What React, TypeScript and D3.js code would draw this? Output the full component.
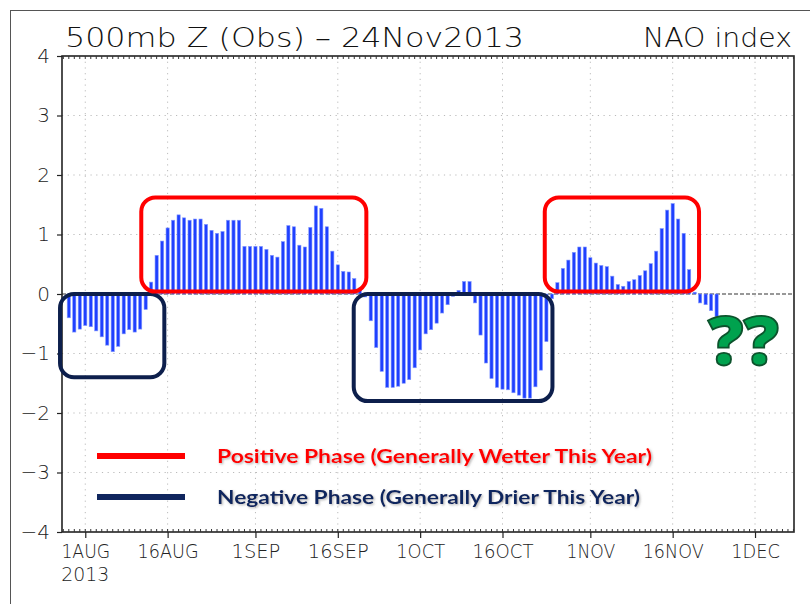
import * as d3 from "d3";
import { useEffect, useRef } from "react";

// daily NAO index, starting 29 Jul 2013
const startDate = "2013-07-29";
const naoValues = [
  -0.4, -0.64, -0.59, -0.53, -0.55, -0.62, -0.72, -0.86, -0.97, -0.88, -0.67, -0.6, -0.64, -0.59, -0.26,
  0.2, 0.65, 0.89, 1.11, 1.24, 1.33, 1.28, 1.24, 1.26, 1.26, 1.17, 1.07, 1.02, 1.05, 1.24, 1.24, 1.24, 0.8, 0.8,
  0.8, 0.8, 0.75, 0.65, 0.62, 0.88, 1.15, 1.13, 0.82, 0.79, 1.12, 1.48, 1.44, 1.13, 0.72, 0.49, 0.38, 0.37, 0.26,
  0.1, -0.05, -0.45, -0.9, -1.3, -1.57, -1.57, -1.55, -1.5, -1.44, -1.24,
  -0.94, -0.67, -0.6, -0.49, -0.32, -0.18, -0.04, 0.06, 0.21, 0.21, -0.15, -0.69, -1.16, -1.42, -1.57, -1.6,
  -1.61, -1.66, -1.7, -1.75, -1.75, -1.56, -1.28, -0.8, -0.08, 0.19, 0.43, 0.57, 0.7, 0.79, 0.79,
  0.61, 0.52, 0.48, 0.46, 0.3, 0.16, 0.13, 0.21, 0.24, 0.31, 0.39, 0.51, 0.72, 1.1, 1.41, 1.52, 1.26, 1.02,
  0.41, 0.03, -0.15, -0.18, -0.28, -0.38,
];

const yTicks = [-4, -3, -2, -1, 0, 1, 2, 3, 4];
const xTickDates = [
  "2013-08-01", "2013-08-16", "2013-09-01", "2013-09-16", "2013-10-01",
  "2013-10-16", "2013-11-01", "2013-11-16", "2013-12-01",
];
const xTickLabels = ["1AUG", "16AUG", "1SEP", "16SEP", "1OCT", "16OCT", "1NOV", "16NOV", "1DEC"];

// highlighted phases: day offsets from 1 Aug 2013 and index range
const phaseKind = ["neg", "pos", "neg", "pos"];
const phaseFromDay = [-4.6, 10.2, 48.9, 83.7];
const phaseToDay = [14.4, 51.2, 85.1, 111.8];
const phaseTop = [0.0, 1.62, 0.0, 1.62];
const phaseBottom = [-1.4, 0.04, -1.8, 0.04];

const legendLabels = [
  "Positive Phase (Generally Wetter This Year)",
  "Negative Phase (Generally Drier This Year)",
];

const W = 810;
const H = 604;
const AXIS_FONT = "'DejaVu Sans', sans-serif";

export default function App() {
  const svgRef = useRef(null);

  useEffect(() => {
    const svg = d3.select(svgRef.current);
    svg.selectAll("*").remove();

    const day = 86400000;
    const aug1 = Date.UTC(2013, 7, 1);
    const x = d3
      .scaleUtc()
      .domain([new Date(aug1 - 4.24 * day), new Date(aug1 + 129.1 * day)])
      .range([62, 794]);
    const y = d3.scaleLinear().domain([-4, 4]).range([532, 56]);

    const start = d3.utcParse("%Y-%m-%d")(startDate);
    const data = naoValues.map((v, i) => ({ date: d3.utcDay.offset(start, i), v }));
    const tickDates = xTickDates.map((s) => d3.utcParse("%Y-%m-%d")(s));
    const dayX = (d) => x(new Date(aug1 + d * day));

    svg.append("rect").attr("width", W).attr("height", H).attr("fill", "#fff");

    // outer frame
    svg
      .append("rect")
      .attr("x", 10.5)
      .attr("y", 10.5)
      .attr("width", 900)
      .attr("height", 900)
      .attr("fill", "none")
      .attr("stroke", "#555");

    const defs = svg.append("defs");
    const f = defs.append("filter").attr("id", "shadow").attr("x", "-5%").attr("y", "-20%").attr("width", "110%").attr("height", "150%");
    f.append("feDropShadow")
      .attr("dx", 1.2)
      .attr("dy", 1.2)
      .attr("stdDeviation", 0.8)
      .attr("flood-color", "#777")
      .attr("flood-opacity", 0.55);

    // grid
    const grid = svg.append("g").attr("stroke", "#bbb").attr("stroke-dasharray", "1.2,4.5");
    grid
      .selectAll("line.v")
      .data(tickDates)
      .join("line")
      .attr("x1", (d) => x(d))
      .attr("x2", (d) => x(d))
      .attr("y1", y(4))
      .attr("y2", y(-4));
    grid
      .selectAll("line.h")
      .data(yTicks.filter((t) => t !== 0 && Math.abs(t) !== 4))
      .join("line")
      .attr("x1", x.range()[0])
      .attr("x2", x.range()[1])
      .attr("y1", (d) => y(d))
      .attr("y2", (d) => y(d));

    // zero line
    svg
      .append("line")
      .attr("x1", x.range()[0])
      .attr("x2", x.range()[1])
      .attr("y1", y(0))
      .attr("y2", y(0))
      .attr("stroke", "#777")
      .attr("stroke-width", 1.3)
      .attr("stroke-dasharray", "4,2");

    // bars
    svg
      .append("g")
      .selectAll("rect")
      .data(data)
      .join("rect")
      .attr("x", (d) => x(d.date) - 1.6)
      .attr("width", 3.2)
      .attr("y", (d) => y(Math.max(0, d.v)))
      .attr("height", (d) => Math.abs(y(d.v) - y(0)))
      .attr("fill", "#1f40ff")
      .attr("stroke", "#8398ff")
      .attr("stroke-width", 0.6);

    // axes frame
    svg
      .append("rect")
      .attr("x", x.range()[0])
      .attr("y", y(4))
      .attr("width", x.range()[1] - x.range()[0])
      .attr("height", y(-4) - y(4))
      .attr("fill", "none")
      .attr("stroke", "#222")
      .attr("stroke-width", 1.6);

    // daily minor ticks on top and bottom
    const days = d3.utcDay.range(x.domain()[0], x.domain()[1]);
    const minor = svg.append("g").attr("stroke", "#333").attr("stroke-width", 1);
    minor
      .selectAll("line.b")
      .data(days)
      .join("line")
      .attr("x1", (d) => x(d))
      .attr("x2", (d) => x(d))
      .attr("y1", y(-4))
      .attr("y2", y(-4) - 3);
    minor
      .selectAll("line.t")
      .data(days)
      .join("line")
      .attr("x1", (d) => x(d))
      .attr("x2", (d) => x(d))
      .attr("y1", y(4))
      .attr("y2", y(4) + 3);

    const xAxis = svg
      .append("g")
      .attr("transform", `translate(0,${y(-4)})`)
      .call(
        d3
          .axisBottom(x)
          .tickValues(tickDates)
          .tickFormat((d, i) => xTickLabels[i])
          .tickSize(6)
          .tickPadding(6)
      );
    const yAxis = svg
      .append("g")
      .attr("transform", `translate(${x.range()[0]},0)`)
      .call(d3.axisLeft(y).tickValues(yTicks).tickSize(5).tickPadding(7));

    for (const ax of [xAxis, yAxis]) {
      ax.select(".domain").remove();
      ax.selectAll("line").attr("stroke", "#222").attr("stroke-width", 1.2);
      ax.selectAll("text")
        .attr("font-family", AXIS_FONT)
        .attr("font-weight", 200)
        .attr("font-size", 20)
        .attr("fill", "#222");
    }
    xAxis.selectAll("text").attr("textLength", (d, i) => xTickLabels[i].length * 12.2).attr("lengthAdjust", "spacingAndGlyphs");

    svg
      .append("text")
      .attr("x", x(tickDates[0]))
      .attr("y", 581)
      .attr("text-anchor", "middle")
      .attr("font-family", AXIS_FONT)
      .attr("font-weight", 200)
      .attr("font-size", 20)
      .attr("fill", "#222")
      .attr("textLength", 48)
      .attr("lengthAdjust", "spacingAndGlyphs")
      .text("2013");

    // titles
    svg
      .append("text")
      .attr("x", 65)
      .attr("y", 47)
      .attr("font-family", AXIS_FONT)
      .attr("font-weight", 200)
      .attr("font-size", 26)
      .attr("fill", "#111")
      .attr("textLength", 459)
      .attr("lengthAdjust", "spacingAndGlyphs")
      .text("500mb Z (Obs) – 24Nov2013");
    svg
      .append("text")
      .attr("x", 643)
      .attr("y", 47)
      .attr("font-family", AXIS_FONT)
      .attr("font-weight", 200)
      .attr("font-size", 26)
      .attr("fill", "#111")
      .attr("textLength", 149)
      .attr("lengthAdjust", "spacingAndGlyphs")
      .text("NAO index");

    // phase boxes
    svg
      .append("g")
      .selectAll("rect")
      .data(phaseKind.map((k, i) => ({ k, i })))
      .join("rect")
      .attr("x", (d) => dayX(phaseFromDay[d.i]))
      .attr("width", (d) => dayX(phaseToDay[d.i]) - dayX(phaseFromDay[d.i]))
      .attr("y", (d) => y(phaseTop[d.i]))
      .attr("height", (d) => y(phaseBottom[d.i]) - y(phaseTop[d.i]))
      .attr("rx", 14)
      .attr("fill", "none")
      .attr("stroke", (d) => (d.k === "pos" ? "#ff0000" : "#0d1f4c"))
      .attr("stroke-width", 4);

    // legend
    const legColors = ["#ff0000", "#10265e"];
    const legWidths = [435, 423];
    const leg = svg
      .append("g")
      .selectAll("g")
      .data(legendLabels)
      .join("g")
      .attr("transform", (d, i) => `translate(0,${456 + i * 41})`);
    leg
      .append("line")
      .attr("x1", 97)
      .attr("x2", 185)
      .attr("stroke", (d, i) => legColors[i])
      .attr("stroke-width", 6);
    leg
      .append("text")
      .attr("x", 217)
      .attr("y", 7)
      .attr("font-family", "Lato, 'Open Sans', sans-serif")
      .attr("font-weight", "bold")
      .attr("font-size", 19)
      .attr("fill", (d, i) => legColors[i])
      .attr("textLength", (d, i) => legWidths[i])
      .attr("lengthAdjust", "spacingAndGlyphs")
      .attr("filter", "url(#shadow)")
      .text((d) => d);

    // question marks
    svg
      .append("text")
      .attr("x", 708)
      .attr("y", 365)
      .attr("font-family", "'Open Sans', Lato, sans-serif")
      .attr("font-weight", 800)
      .attr("font-size", 68)
      .attr("fill", "#00a24e")
      .attr("stroke", "#0c532c")
      .attr("stroke-width", 1.8)
      .attr("textLength", 71)
      .attr("lengthAdjust", "spacingAndGlyphs")
      .text("??");
  }, []);

  return (
    <svg
      ref={svgRef}
      width={W}
      height={H}
      style={{ position: "absolute", left: 0, top: 0, display: "block" }}
    />
  );
}
